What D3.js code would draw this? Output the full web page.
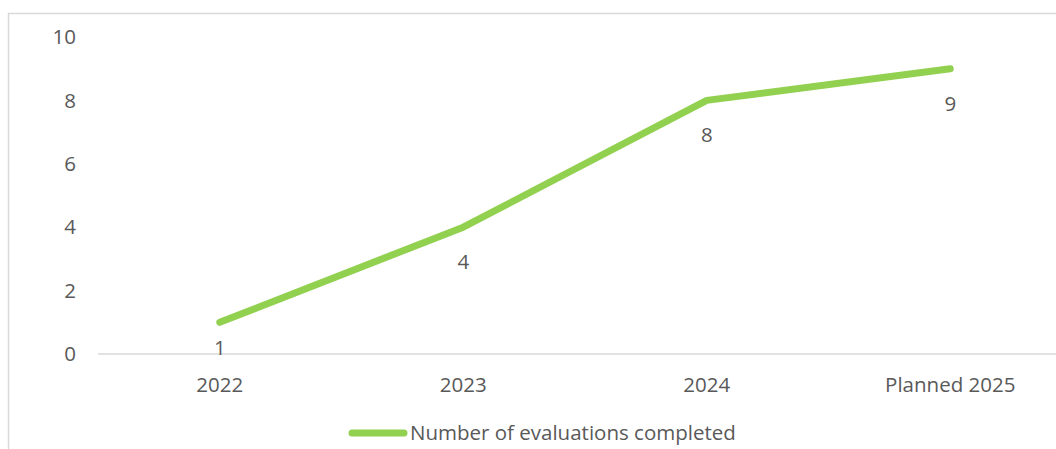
<!DOCTYPE html>
<html lang="en">
<head>
  <meta charset="UTF-8">
  <script src="https://cdn.jsdelivr.net/npm/d3@7"></script>
  <title>Evaluations completed</title>
  <style>
    body { margin: 0; background: #fff; }
    svg { display: block; }
    text { font-family: "Open Sans", sans-serif; fill: #595959; }
  </style>
</head>
<body>
<div id="chart"></div>
<script>
  // Data
  var years = ["2022", "2023", "2024", "Planned 2025"];
  var evaluations = [1, 4, 8, 9];
  var yTicks = [0, 2, 4, 6, 8, 10];
  var seriesName = "Number of evaluations completed";

  var W = 1056, H = 449;
  var margin = {top: 37, left: 98, bottom: 95};
  var plotH = H - margin.top - margin.bottom; // 317
  var plotW = 974;
  var fs = 20.5;

  var svg = d3.select("#chart").append("svg")
      .attr("width", W)
      .attr("height", H);

  // Chart frame (cropped at right and bottom)
  svg.append("path")
    .attr("d", "M8.5," + H + "V13.5H" + W)
    .attr("fill", "none")
    .attr("stroke", "#d9d9d9")
    .attr("stroke-width", 1.5);

  var x = d3.scaleBand().domain(years).range([margin.left, margin.left + plotW]);
  var y = d3.scaleLinear().domain([0, 10]).range([margin.top + plotH, margin.top]);

  // Y axis labels
  svg.append("g")
    .selectAll("text")
    .data(yTicks)
    .enter().append("text")
      .attr("x", 76)
      .attr("y", function(d) { return y(d); })
      .attr("dy", "0.35em")
      .attr("text-anchor", "end")
      .attr("font-size", fs)
      .text(function(d) { return d; });

  // X axis line
  svg.append("line")
    .attr("x1", margin.left)
    .attr("x2", margin.left + plotW)
    .attr("y1", y(0))
    .attr("y2", y(0))
    .attr("stroke", "#d9d9d9")
    .attr("stroke-width", 1.5);

  // X axis labels
  svg.append("g")
    .selectAll("text")
    .data(years)
    .enter().append("text")
      .attr("x", function(d) { return x(d) + x.bandwidth() / 2; })
      .attr("y", y(0) + 31)
      .attr("dy", "0.35em")
      .attr("text-anchor", "middle")
      .attr("font-size", fs)
      .text(function(d) { return d; });

  // Line
  var pts = years.map(function(d, i) { return {cat: d, v: evaluations[i]}; });
  var line = d3.line()
    .x(function(d) { return x(d.cat) + x.bandwidth() / 2; })
    .y(function(d) { return y(d.v); });

  svg.append("path")
    .datum(pts)
    .attr("d", line)
    .attr("fill", "none")
    .attr("stroke", "#92d050")
    .attr("stroke-width", 7)
    .attr("stroke-linecap", "round")
    .attr("stroke-linejoin", "round");

  // Data labels (below points)
  svg.append("g")
    .selectAll("text")
    .data(pts)
    .enter().append("text")
      .attr("x", function(d) { return x(d.cat) + x.bandwidth() / 2; })
      .attr("y", function(d) { return Math.min(y(d.v) + 42, y(0) + 1); })
      .attr("text-anchor", "middle")
      .attr("font-size", fs)
      .attr("fill", "#404040")
      .text(function(d) { return d.v; });

  // Legend
  var legend = svg.append("g").attr("transform", "translate(352,433)");
  legend.append("line")
    .attr("x1", 0).attr("x2", 52)
    .attr("stroke", "#92d050")
    .attr("stroke-width", 7)
    .attr("stroke-linecap", "round");
  legend.append("text")
    .attr("x", 58)
    .attr("dy", "0.35em")
    .attr("font-size", fs)
    .text(seriesName);
</script>
</body>
</html>
